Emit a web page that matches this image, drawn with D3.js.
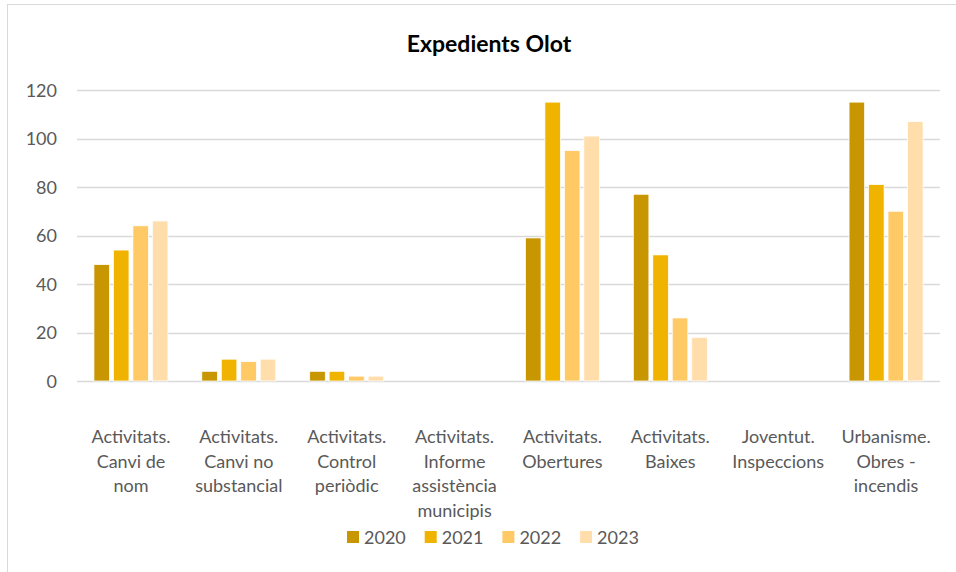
<!DOCTYPE html>
<html>
<head>
<meta charset="utf-8">
<script src="https://cdn.jsdelivr.net/npm/d3@7"></script>
<style>
  body { margin: 0; background: #fff; }
  svg { display: block; font-family: Lato, "Open Sans", sans-serif; }
</style>
</head>
<body>
<svg id="chart" width="956" height="572"></svg>
<script>
// categories, wrapped as in the original
var categories = [
  ['Activitats.', 'Canvi de', 'nom'],
  ['Activitats.', 'Canvi no', 'substancial'],
  ['Activitats.', 'Control', 'periòdic'],
  ['Activitats.', 'Informe', 'assistència', 'municipis'],
  ['Activitats.', 'Obertures'],
  ['Activitats.', 'Baixes'],
  ['Joventut.', 'Inspeccions'],
  ['Urbanisme.', 'Obres -', 'incendis']
];
var years = ['2020', '2021', '2022', '2023'];
var values2020 = [48, 4, 4, 0, 59, 77, 0, 115];
var values2021 = [54, 9, 4, 0, 115, 52, 0, 81];
var values2022 = [64, 8, 2, 0, 95, 26, 0, 70];
var values2023 = [66, 9, 2, 0, 101, 18, 0, 107];
var yTicks = [0, 20, 40, 60, 80, 100, 120];
var colors = ['#c89600', '#f0b400', '#ffc966', '#ffdeab'];

var series = [values2020, values2021, values2022, values2023];

var svg = d3.select('#chart');

// chart frame (only top and left edges fall inside the picture)
svg.append('rect')
  .attr('x', 7.5).attr('y', 4.5)
  .attr('width', 1000).attr('height', 1000)
  .attr('fill', 'none')
  .attr('stroke', '#d9d9d9');

var plotLeft = 77, plotRight = 940, plotTop = 90, plotBottom = 381;

var x = d3.scaleBand()
  .domain(d3.range(categories.length))
  .range([plotLeft, plotRight])
  .paddingInner(0.314)
  .paddingOuter(0.157);

var x1 = d3.scaleBand()
  .domain(years)
  .range([0, x.bandwidth()])
  .paddingInner(0.2);

var y = d3.scaleLinear().domain([0, 120]).range([plotBottom, plotTop]);

// gridlines
svg.append('g')
  .selectAll('line')
  .data(yTicks)
  .join('line')
  .attr('x1', plotLeft).attr('x2', plotRight)
  .attr('y1', function(d) { return Math.round(y(d)) + 0.5; })
  .attr('y2', function(d) { return Math.round(y(d)) + 0.5; })
  .attr('stroke', '#d9d9d9')
  .attr('stroke-width', 1.5);

// y tick labels
svg.append('g')
  .selectAll('text')
  .data(yTicks)
  .join('text')
  .attr('x', 57)
  .attr('y', function(d) { return y(d) + 6.5; })
  .attr('text-anchor', 'end')
  .attr('font-size', 18)
  .attr('fill', '#595959')
  .text(function(d) { return d; });

// bars
var groups = svg.append('g')
  .selectAll('g')
  .data(categories)
  .join('g')
  .attr('transform', function(d, i) { return 'translate(' + x(i) + ',0)'; });

groups.selectAll('rect')
  .data(function(d, i) {
    return series
      .map(function(s, k) { return { year: years[k], value: s[i], k: k }; })
      .filter(function(d) { return d.value > 0; });
  })
  .join('rect')
  .attr('x', function(d) { return x1(d.year); })
  .attr('y', function(d) { return y(d.value); })
  .attr('width', x1.bandwidth())
  .attr('height', function(d) { return y(0) - y(d.value); })
  .attr('fill', function(d) { return colors[d.k]; })
  .attr('stroke', '#fff')
  .attr('stroke-width', 0.75);

// category labels
var labels = svg.append('g')
  .selectAll('text')
  .data(categories)
  .join('text')
  .attr('text-anchor', 'middle')
  .attr('font-size', 18)
  .attr('fill', '#595959')
  .attr('transform', function(d, i) { return 'translate(' + (x(i) + x.bandwidth() / 2) + ',443)'; });

labels.selectAll('tspan')
  .data(function(d) { return d; })
  .join('tspan')
  .attr('x', 0)
  .attr('y', function(d, i) { return i * 24.5; })
  .text(function(d) { return d; });

// title
svg.append('text')
  .attr('x', 489)
  .attr('y', 52)
  .attr('text-anchor', 'middle')
  .attr('font-size', 23)
  .attr('font-weight', 'bold')
  .attr('fill', '#000')
  .text('Expedients Olot');

// legend
var legend = svg.append('g')
  .selectAll('g')
  .data(years)
  .join('g')
  .attr('transform', function(d, i) { return 'translate(' + (347 + i * 77.7) + ',531)'; });

legend.append('rect')
  .attr('width', 12).attr('height', 12)
  .attr('fill', function(d, i) { return colors[i]; });

legend.append('text')
  .attr('x', 17)
  .attr('y', 12.5)
  .attr('font-size', 18)
  .attr('fill', '#595959')
  .text(function(d) { return d; });
</script>
</body>
</html>
